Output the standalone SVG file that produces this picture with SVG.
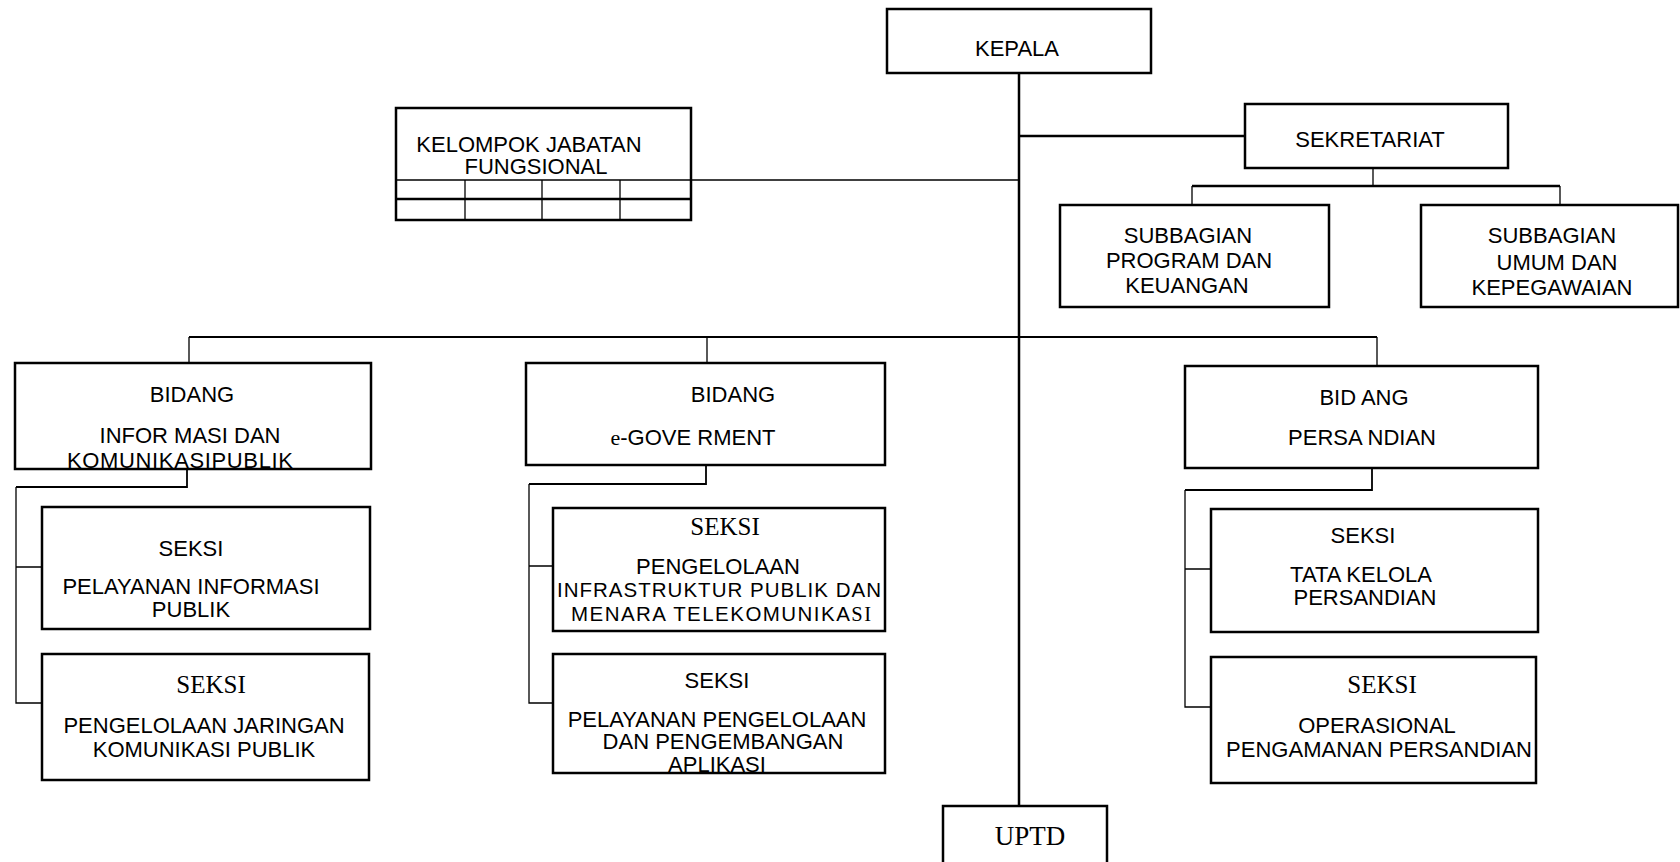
<svg xmlns="http://www.w3.org/2000/svg" width="1680" height="862" viewBox="0 0 1680 862">
<style>
.box{fill:#fff;stroke:#000;stroke-width:2.5}
.ln{fill:none;stroke:#000;stroke-width:1.3}
.lnb{fill:none;stroke:#000;stroke-width:2.5}
.lnm{fill:none;stroke:#000;stroke-width:1.8}
.t{font-family:"Liberation Sans",Arial,sans-serif;font-size:22px;fill:#000;text-anchor:middle}
.s{font-family:"Liberation Serif","Times New Roman",serif;font-size:25px;fill:#000;text-anchor:middle}
.sr{font-family:"Liberation Serif","Times New Roman",serif}
</style>
<rect width="1680" height="862" fill="#fff"/>
<g id="connectors">
<path class="lnb" d="M1019,73 V806"/>
<path class="lnb" d="M1019,136 H1245"/>
<path class="ln" d="M1373,168 V186"/>
<path class="lnb" d="M1192,186 H1560"/>
<path class="ln" d="M1192,186 V205 M1560,186 V205"/>
<path class="ln" d="M691,180 H1019"/>
<path class="lnm" d="M189,337 H1377"/>
<path class="ln" d="M189,337 V363 M707,337 V363 M1377,337 V366"/>
<path class="lnm" d="M187,469 V487 H16"/>
<path class="ln" d="M16,487 V703 H42 M16,567 H42"/>
<path class="lnm" d="M706,465 V484 H529"/>
<path class="ln" d="M529,484 V703 H553 M529,566 H553"/>
<path class="lnm" d="M1372,468 V490 H1185"/>
<path class="ln" d="M1185,490 V707 H1211 M1185,569 H1211"/>
</g>
<g id="kepala">
<rect class="box" x="887" y="9" width="264" height="64"/>
<text class="t" x="1017" y="56">KEPALA</text>
</g>
<g id="kelompok">
<rect class="box" x="396" y="108" width="295" height="112"/>
<path class="ln" d="M396,180 H691"/>
<path class="lnb" d="M396,199 H691"/>
<path class="ln" d="M465,180 V220 M542,180 V220 M620,180 V220"/>
<text class="t" x="529" y="152">KELOMPOK JABATAN</text>
<text class="t" x="536" y="174">FUNGSIONAL</text>
</g>
<g id="sekretariat">
<rect class="box" x="1245" y="104" width="263" height="64"/>
<text class="t" x="1370" y="147">SEKRETARIAT</text>
</g>
<g id="sub-program">
<rect class="box" x="1060" y="205" width="269" height="102"/>
<text class="t" x="1188" y="243">SUBBAGIAN</text>
<text class="t" x="1189" y="268">PROGRAM DAN</text>
<text class="t" x="1187" y="293">KEUANGAN</text>
</g>
<g id="sub-umum">
<rect class="box" x="1421" y="205" width="257" height="102"/>
<text class="t" x="1552" y="243">SUBBAGIAN</text>
<text class="t" x="1557" y="270">UMUM DAN</text>
<text class="t" x="1552" y="295">KEPEGAWAIAN</text>
</g>
<g id="bidang-info">
<rect class="box" x="15" y="363" width="356" height="106"/>
<text class="t" x="192" y="402">BIDANG</text>
<text class="t" x="190" y="443">INFOR MASI DAN</text>
<text class="t" x="180" y="468" textLength="226">KOMUNIKASIPUBLIK</text>
</g>
<g id="seksi-pelayanan-informasi">
<rect class="box" x="42" y="507" width="328" height="122"/>
<text class="t" x="191" y="556">SEKSI</text>
<text class="t" x="191" y="594">PELAYANAN INFORMASI</text>
<text class="t" x="191" y="617">PUBLIK</text>
</g>
<g id="seksi-jaringan">
<rect class="box" x="42" y="654" width="327" height="126"/>
<text class="s" x="211" y="693">SEKSI</text>
<text class="t" x="204" y="733">PENGELOLAAN JARINGAN</text>
<text class="t" x="204" y="757">KOMUNIKASI PUBLIK</text>
</g>
<g id="bidang-egov">
<rect class="box" x="526" y="363" width="359" height="102"/>
<text class="t" x="733" y="402">BIDANG</text>
<text class="t" x="693" y="445"><tspan class="sr">e</tspan>-GOVE RMENT</text>
</g>
<g id="seksi-infrastruktur">
<rect class="box" x="553" y="508" width="332" height="123"/>
<text class="s" x="725" y="535">SEKSI</text>
<text class="t" x="718" y="574">PENGELOLAAN</text>
<text class="t" x="719" y="597" textLength="324" style="font-size:20.5px">INFRASTRUKTUR PUBLIK DAN</text>
<text class="t" x="721" y="621" style="font-size:20.5px" textLength="300">MENARA TELEKOMUNIKA<tspan class="sr">SI</tspan></text>
</g>
<g id="seksi-aplikasi">
<rect class="box" x="553" y="654" width="332" height="119"/>
<text class="t" x="717" y="688">SEKSI</text>
<text class="t" x="717" y="727">PELAYANAN PENGELOLAAN</text>
<text class="t" x="723" y="749">DAN PENGEMBANGAN</text>
<text class="t" x="717" y="772">APLIKASI</text>
</g>
<g id="bidang-persandian">
<rect class="box" x="1185" y="366" width="353" height="102"/>
<text class="t" x="1364" y="405">BID ANG</text>
<text class="t" x="1362" y="445">PERSA NDIAN</text>
</g>
<g id="seksi-tata-kelola">
<rect class="box" x="1211" y="509" width="327" height="123"/>
<text class="t" x="1363" y="543">SEKSI</text>
<text class="t" x="1361" y="582">TATA KELOLA</text>
<text class="t" x="1365" y="605">PERSANDIAN</text>
</g>
<g id="seksi-operasional">
<rect class="box" x="1211" y="657" width="325" height="126"/>
<text class="s" x="1382" y="693">SEKSI</text>
<text class="t" x="1377" y="733">OPERASIONAL</text>
<text class="t" x="1379" y="757" textLength="306">PENGAMANAN PERSANDIAN</text>
</g>
<g id="uptd">
<rect class="box" x="943" y="806" width="164" height="70"/>
<text class="s" x="1030" y="845" style="font-size:27px">UPTD</text>
</g>
</svg>
